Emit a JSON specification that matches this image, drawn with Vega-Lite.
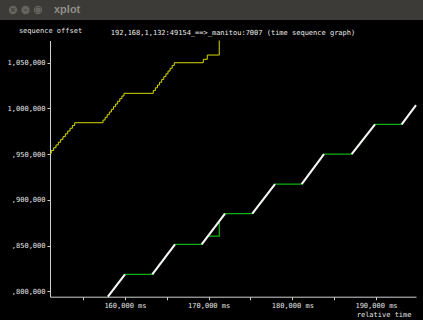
{
  "$schema": "https://vega.github.io/schema/vega-lite/v6.json",
  "background": "#000000",
  "padding": 0,
  "spacing": 0,
  "bounds": "flush",
  "config": {"view": {"stroke": null}, "axis": {"grid": false}, "font": "DejaVu Sans Mono"},
  "datasets": {
    "buttons": [
      {"button": "close", "glyph": "×"},
      {"button": "minimize", "glyph": "–"},
      {"button": "maximize", "glyph": "□"}
    ],
    "windowtitle": [{"name": "xplot"}],
    "window": [
      {"t": 151040, "seq": 950900},
      {"t": 151195, "seq": 953960},
      {"t": 151475, "seq": 957000},
      {"t": 151755, "seq": 960040},
      {"t": 152035, "seq": 963080},
      {"t": 152315, "seq": 966130},
      {"t": 152595, "seq": 969170},
      {"t": 152875, "seq": 972210},
      {"t": 153155, "seq": 975250},
      {"t": 153435, "seq": 978300},
      {"t": 153715, "seq": 981340},
      {"t": 153992, "seq": 984380},
      {"t": 157374, "seq": 987300},
      {"t": 157625, "seq": 990230},
      {"t": 157876, "seq": 993150},
      {"t": 158127, "seq": 996070},
      {"t": 158378, "seq": 999000},
      {"t": 158629, "seq": 1001920},
      {"t": 158880, "seq": 1004840},
      {"t": 159131, "seq": 1007760},
      {"t": 159382, "seq": 1010690},
      {"t": 159633, "seq": 1013610},
      {"t": 159883, "seq": 1016530},
      {"t": 163384, "seq": 1019570},
      {"t": 163635, "seq": 1022620},
      {"t": 163886, "seq": 1025660},
      {"t": 164137, "seq": 1028700},
      {"t": 164388, "seq": 1031740},
      {"t": 164639, "seq": 1034790},
      {"t": 164890, "seq": 1037830},
      {"t": 165141, "seq": 1040870},
      {"t": 165392, "seq": 1043910},
      {"t": 165643, "seq": 1046960},
      {"t": 165894, "seq": 1050000},
      {"t": 169359, "seq": 1053700},
      {"t": 169837, "seq": 1058400},
      {"t": 171267, "seq": 1074300}
    ],
    "ack": [
      {"i": 1, "t": 157960, "seq": 794100},
      {"i": 2, "t": 160000, "seq": 818600},
      {"i": 3, "t": 163265, "seq": 818600},
      {"i": 4, "t": 165978, "seq": 851400},
      {"i": 5, "t": 169168, "seq": 851400},
      {"i": 6, "t": 169920, "seq": 860400},
      {"i": 7, "t": 171271, "seq": 860400},
      {"i": 8, "t": 171271, "seq": 877500},
      {"i": 9, "t": 171953, "seq": 885000},
      {"i": 10, "t": 175215, "seq": 885000},
      {"i": 11, "t": 177928, "seq": 917300},
      {"i": 12, "t": 181118, "seq": 917300},
      {"i": 13, "t": 183783, "seq": 950100},
      {"i": 14, "t": 187093, "seq": 950100},
      {"i": 15, "t": 189877, "seq": 982500},
      {"i": 16, "t": 193068, "seq": 982500},
      {"i": 17, "t": 194780, "seq": 1003500}
    ],
    "segments": [
      {"burst": 1, "t": 157960, "seq": 794100},
      {"burst": 1, "t": 160000, "seq": 818600},
      {"burst": 2, "t": 163265, "seq": 818600},
      {"burst": 2, "t": 165978, "seq": 851400},
      {"burst": 3, "t": 169168, "seq": 851400},
      {"burst": 3, "t": 171953, "seq": 885000},
      {"burst": 4, "t": 175215, "seq": 885000},
      {"burst": 4, "t": 177928, "seq": 917300},
      {"burst": 5, "t": 181118, "seq": 917300},
      {"burst": 5, "t": 183783, "seq": 950100},
      {"burst": 6, "t": 187093, "seq": 950100},
      {"burst": 6, "t": 189877, "seq": 982500},
      {"burst": 7, "t": 193068, "seq": 982500},
      {"burst": 7, "t": 194780, "seq": 1003500}
    ]
  },
  "vconcat": [
    {
      "width": 423,
      "height": 20,
      "view": {"fill": "#3c3b37", "stroke": null},
      "layer": [
        {
          "data": {"name": "buttons"},
          "mark": {"type": "point", "filled": true, "size": 70, "color": "#65645f", "opacity": 1},
          "encoding": {
            "x": {"field": "button", "type": "nominal", "sort": null, "scale": {"type": "point", "range": [13, 38], "padding": 0}, "axis": null}
          }
        },
        {
          "data": {"name": "buttons"},
          "mark": {"type": "text", "fontSize": 7, "font": "DejaVu Sans", "fontWeight": "bold", "color": "#3c3b37", "baseline": "middle"},
          "encoding": {
            "x": {"field": "button", "type": "nominal", "sort": null, "axis": null},
            "text": {"field": "glyph"}
          }
        },
        {
          "data": {"name": "windowtitle"},
          "mark": {"type": "text", "align": "left", "baseline": "middle", "dx": -157.5, "font": "Liberation Sans", "fontWeight": "bold", "fontSize": 11, "color": "#8e8d88"},
          "encoding": {"text": {"field": "name"}}
        }
      ]
    },
    {
      "width": 423,
      "height": 300,
      "view": {"fill": "#000000", "stroke": null},
      "encoding": {
        "y": {
          "field": "seq",
          "type": "quantitative",
          "scale": {"domain": [794100, 1074300], "range": [276.7, 20.5], "nice": false, "zero": false},
          "axis": {
            "orient": "left",
            "offset": -50,
            "values": [800000, 850000, 900000, 950000, 1000000, 1050000],
            "labelExpr": "datum.value >= 1000000 ? format(datum.value, ',') : ',' + format(datum.value, ',')",
            "tickSize": 3,
            "labelPadding": 2,
            "domainColor": "#d0d0d0",
            "tickColor": "#d0d0d0",
            "labelColor": "#e4e4e4",
            "labelFont": "DejaVu Sans Mono",
            "labelFontSize": 7,
            "labelBaseline": "middle",
            "labelFlush": false,
            "labelOverlap": false,
            "grid": false,
            "title": "sequence offset",
            "titleAngle": 0,
            "titleX": 0,
            "titleY": 10,
            "titleAlign": "center",
            "titleBaseline": "middle",
            "titleFont": "DejaVu Sans Mono",
            "titleFontSize": 7,
            "titleFontWeight": "normal",
            "titleColor": "#e4e4e4"
          }
        }
      },
      "layer": [
        {
          "data": {"name": "ack"},
          "mark": {"type": "line", "color": "#12b012", "strokeWidth": 1.2},
          "encoding": {
            "x": {
              "field": "t",
              "type": "quantitative",
              "scale": {"domain": [151040, 194780], "range": [50, 416], "nice": false, "zero": false},
              "axis": {
                "orient": "bottom",
                "offset": -23.3,
                "values": [155000, 160000, 165000, 170000, 175000, 180000, 185000, 190000],
                "labelExpr": "datum.value % 10000 === 0 ? format(datum.value, ',') + ' ms' : ''",
                "tickSize": 3,
                "labelPadding": 1.5,
                "labelBaseline": "top",
                "domainColor": "#d0d0d0",
                "tickColor": "#d0d0d0",
                "labelColor": "#e4e4e4",
                "labelFont": "DejaVu Sans Mono",
                "labelFontSize": 7,
                "labelFlush": false,
                "labelOverlap": false,
                "grid": false,
                "title": "relative time",
                "titleX": 411,
                "titleY": 17.5,
                "titleAlign": "right",
                "titleBaseline": "middle",
                "titleFont": "DejaVu Sans Mono",
                "titleFontSize": 7,
                "titleFontWeight": "normal",
                "titleColor": "#e4e4e4"
              }
            },
            "order": {"field": "i"}
          }
        },
        {
          "data": {"name": "segments"},
          "mark": {"type": "line", "color": "#f4f4f4", "strokeWidth": 2.1},
          "encoding": {
            "x": {
              "field": "t",
              "type": "quantitative",
              "axis": {
                "orient": "top",
                "domain": false,
                "ticks": false,
                "labels": false,
                "grid": false,
                "title": "192,168,1,132:49154_==>_manitou:7007 (time sequence graph)",
                "titleX": 232.5,
                "titleY": 12.7,
                "titleAlign": "center",
                "titleBaseline": "middle",
                "titleFont": "DejaVu Sans Mono",
                "titleFontSize": 7,
                "titleFontWeight": "normal",
                "titleColor": "#ececec"
              }
            },
            "detail": {"field": "burst"}
          }
        },
        {
          "data": {"name": "window"},
          "mark": {"type": "line", "color": "#d8d800", "strokeWidth": 1, "interpolate": "step-after"},
          "encoding": {
            "x": {"field": "t", "type": "quantitative", "axis": null}
          }
        }
      ],
      "resolve": {"axis": {"x": "independent"}}
    }
  ]
}
